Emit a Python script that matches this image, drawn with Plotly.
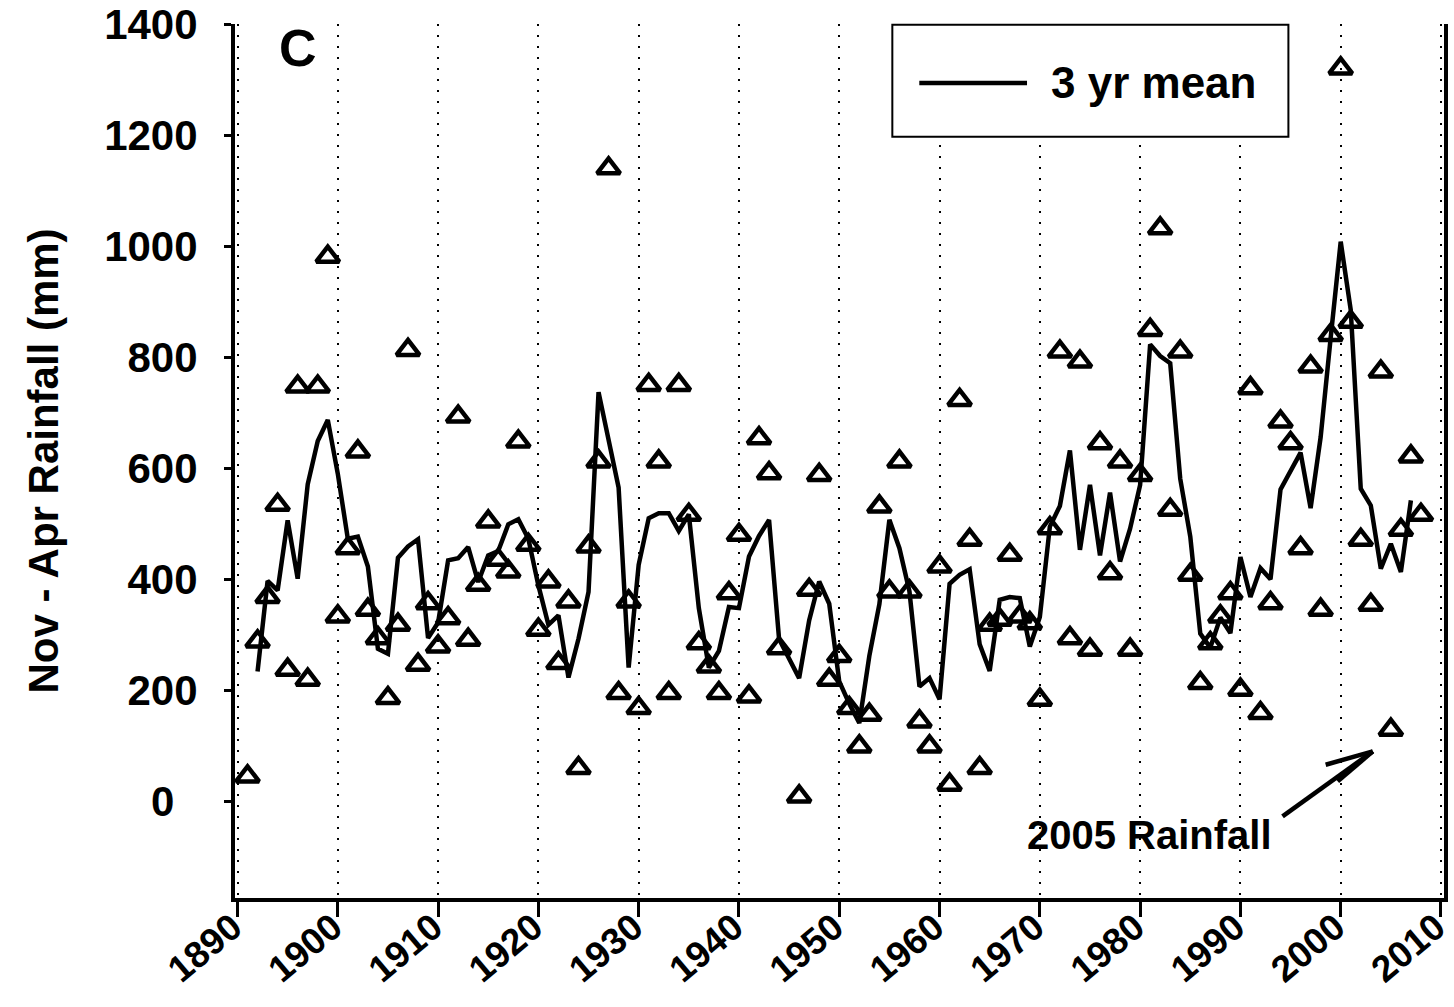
import plotly.graph_objects as go

# ---------------- data ----------------
years = [1891, 1892, 1893, 1894, 1895, 1896, 1897, 1898, 1899, 1900,
         1901, 1902, 1903, 1904, 1905, 1906, 1907, 1908, 1909, 1910,
         1911, 1912, 1913, 1914, 1915, 1916, 1917, 1918, 1919, 1920,
         1921, 1922, 1923, 1924, 1925, 1926, 1927, 1928, 1929, 1930,
         1931, 1932, 1933, 1934, 1935, 1936, 1937, 1938, 1939, 1940,
         1941, 1942, 1943, 1944, 1946, 1947, 1948, 1949, 1950,
         1951, 1952, 1953, 1954, 1955, 1956, 1957, 1958, 1959, 1960,
         1961, 1962, 1963, 1964, 1965, 1966, 1967, 1968, 1969, 1970,
         1971, 1972, 1973, 1974, 1975, 1976, 1977, 1978, 1979, 1980,
         1981, 1982, 1983, 1984, 1985, 1986, 1987, 1988, 1989, 1990,
         1991, 1992, 1993, 1994, 1995, 1996, 1997, 1998, 1999, 2000,
         2001, 2002, 2003, 2004, 2005, 2006, 2007, 2008]

rainfall = [45, 288, 368, 534, 237, 747, 219, 747, 981, 333,
            456, 630, 345, 294, 186, 318, 813, 246, 357, 279,
            330, 693, 291, 390, 504, 435, 414, 648, 462, 309,
            396, 249, 360, 60, 459, 612, 1140, 195, 360, 168,
            750, 612, 195, 750, 516, 285, 243, 195, 375, 480,
            189, 654, 591, 276, 9, 381, 588, 219, 262,
            168, 99, 156, 531, 378, 612, 378, 144, 99, 423,
            30, 723, 471, 60, 318, 327, 444, 333, 321, 183,
            492, 810, 294, 792, 273, 645, 411, 612, 273, 588,
            849, 1032, 525, 810, 408, 213, 285, 333, 375, 201,
            744, 159, 357, 684, 645, 456, 783, 345, 840, 1320,
            864, 471, 354, 774, 129, 489, 621, 516]

mean_years = [1892, 1893, 1894, 1895, 1896, 1897, 1898, 1899, 1900,
              1901, 1902, 1903, 1904, 1905, 1906, 1907, 1908, 1909, 1910,
              1911, 1912, 1913, 1914, 1915, 1916, 1917, 1918, 1919, 1920,
              1921, 1922, 1923, 1924, 1925, 1926, 1927, 1928, 1929, 1930,
              1931, 1932, 1933, 1934, 1935, 1936, 1937, 1938, 1939, 1940,
              1941, 1942, 1943, 1944, 1946, 1947, 1948, 1949, 1950,
              1951, 1952, 1953, 1954, 1955, 1956, 1957, 1958, 1959, 1960,
              1961, 1962, 1963, 1964, 1965, 1966, 1967, 1968, 1969, 1970,
              1971, 1972, 1973, 1974, 1975, 1976, 1977, 1978, 1979, 1980,
              1981, 1982, 1983, 1984, 1985, 1986, 1987, 1988, 1989, 1990,
              1991, 1992, 1993, 1994, 1995, 1996, 1997, 1998, 1999, 2000,
              2001, 2002, 2003, 2004, 2005, 2006, 2007]

mean_3yr = [234, 397, 380, 506, 401, 571, 649, 687, 590,
            473, 477, 423, 275, 266, 439, 459, 472, 294, 322,
            434, 438, 458, 395, 443, 451, 499, 508, 473, 389,
            318, 335, 223, 293, 377, 737, 649, 565, 241, 426,
            510, 519, 519, 487, 517, 348, 241, 271, 350, 348,
            441, 478, 507, 292, 222, 326, 396, 356, 216,
            176, 141, 262, 355, 507, 456, 378, 207, 222, 184,
            392, 408, 418, 283, 235, 363, 368, 366, 279, 332,
            495, 532, 632, 453, 570, 443, 556, 432, 491, 570,
            823, 802, 789, 581, 477, 302, 277, 331, 303, 440,
            368, 420, 400, 562, 595, 628, 528, 656, 835, 1008,
            885, 563, 533, 419, 464, 413, 542]

x_ticks = [1890, 1900, 1910, 1920, 1930, 1940, 1950, 1960, 1970, 1980, 1990, 2000, 2010]
y_ticks = [0, 200, 400, 600, 800, 1000, 1200, 1400]
y_tick_labels = ["0\u00a0\u00a0", "200", "400", "600", "800", "1000", "1200", "1400"]

FONT = "Liberation Sans, Arial, sans-serif"

fig = go.Figure()

fig.add_trace(go.Scatter(
    x=mean_years, y=mean_3yr, mode="lines", name="3 yr mean",
    line=dict(color="black", width=4.5), showlegend=False,
))
fig.add_trace(go.Scatter(
    x=years, y=rainfall, mode="markers", name="Nov - Apr Rainfall",
    marker=dict(symbol="triangle-up-open", size=20, color="black",
                line=dict(color="black", width=4.5)),
    showlegend=False,
))

# ----- hand-drawn legend box (matches reference layout) -----
fig.add_shape(type="rect", xref="paper", yref="paper",
              x0=0.5437, x1=0.8713, y0=0.871, y1=0.999,
              line=dict(color="black", width=2), fillcolor="white", layer="above")
fig.add_shape(type="line", xref="paper", yref="paper",
              x0=0.566, x1=0.6551, y0=0.9326, y1=0.9326,
              line=dict(color="black", width=4.5), layer="above")
fig.add_annotation(xref="paper", yref="paper", x=0.6733, y=0.9326,
                   xanchor="left", yanchor="middle", showarrow=False,
                   text="3 yr mean",
                   font=dict(family=FONT, size=44, color="black", weight="bold"))

# ----- panel letter -----
fig.add_annotation(xref="paper", yref="paper", x=0.0517, y=0.973,
                   xanchor="center", yanchor="middle", showarrow=False,
                   text="C",
                   font=dict(family=FONT, size=52, color="black", weight="bold"))

# ----- 2005 rainfall annotation with open arrow -----
fig.add_annotation(x=1980.9, y=-60, xref="x", yref="y", showarrow=False,
                   xanchor="center", yanchor="middle",
                   text="2005 Rainfall",
                   font=dict(family=FONT, size=40, color="black", weight="bold"))
arrow_tail = (1994.2, -27)
arrow_tip = (2003.2, 90)
wing_a = (1998.5, 66)
wing_b = (1999.7, 36)
for (xa, ya) in [arrow_tail, wing_a, wing_b]:
    fig.add_shape(type="line", xref="x", yref="y",
                  x0=xa, y0=ya, x1=arrow_tip[0], y1=arrow_tip[1],
                  line=dict(color="black", width=4.5))

fig.update_layout(
    width=1454, height=1007,
    margin=dict(l=235, r=10, t=24, b=109),
    paper_bgcolor="white", plot_bgcolor="white",
    font=dict(family=FONT, color="black", size=42, weight="bold"),
    showlegend=False,
)

fig.update_xaxes(
    range=[1889.75, 2010.3],
    automargin=False,
    tickvals=x_ticks, ticktext=[str(v) for v in x_ticks],
    tickangle=-40,
    ticklabelshift=-5,
    ticklabelstandoff=-26,
    ticklabeloverflow="allow",
    ticks="outside", ticklen=15, tickwidth=3, tickcolor="black",
    showline=True, linecolor="black", linewidth=4, mirror=False,
    showgrid=True, gridcolor="black", gridwidth=2, griddash="2px,9px",
    zeroline=False,
    tickfont=dict(family=FONT, size=37, color="black", weight="bold"),
)
fig.update_yaxes(
    range=[-174, 1400],
    automargin=False,
    tickvals=y_ticks, ticktext=y_tick_labels,
    ticks="outside", ticklen=7, tickwidth=3, tickcolor="black",
    showline=True, linecolor="black", linewidth=4, mirror=True,
    showgrid=False, zeroline=False,
    ticklabelstandoff=18,
    tickfont=dict(family=FONT, size=42, color="black", weight="bold"),
    title=dict(text="Nov - Apr Rainfall (mm)", standoff=33,
               font=dict(family=FONT, size=42, color="black", weight="bold")),
)

fig.write_html("out.html",
               config={"displayModeBar": False},
               post_script="document.body.style.margin='0';document.body.style.overflow='hidden';")
